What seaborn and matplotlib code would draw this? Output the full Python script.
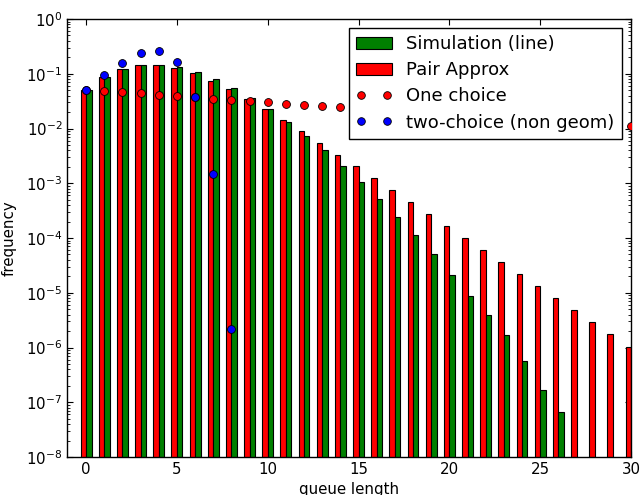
import numpy as np
import pandas as pd
import matplotlib
matplotlib.use("Agg")
import matplotlib.pyplot as plt
from matplotlib.ticker import LogLocator, NullFormatter
from matplotlib.patches import Patch
from matplotlib.lines import Line2D
import seaborn as sns

# ---- data ----
queue = list(range(31))
pair_approx = [0.051, 0.088, 0.123, 0.146, 0.146, 0.130, 0.103, 0.075, 0.052, 0.035,
               0.0225, 0.0141, 0.0089, 0.00544, 0.00333, 0.00203, 0.00124, 0.00075,
               0.000453, 0.000276, 1.64e-4, 1.00e-4, 6.06e-5, 3.65e-5, 2.2e-5,
               1.33e-5, 8.0e-6, 4.76e-6, 2.87e-6, 1.75e-6, 1.04e-6]
simulation = [0.051, 0.086, 0.123, 0.142, 0.146, 0.132, 0.107, 0.080, 0.055, 0.036,
              0.0225, 0.0132, 0.0074, 0.00406, 0.00209, 0.00105, 0.000513, 0.000243,
              0.000114, 5.05e-5, 2.14e-5, 8.8e-6, 3.9e-6, 1.66e-6, 5.6e-7,
              1.65e-7, 6.7e-8, np.nan, np.nan, np.nan, np.nan]
one_choice = [0.050, 0.048, 0.0455, 0.0436, 0.0412, 0.0389, 0.037, 0.0353, 0.0334, 0.032,
              0.030, 0.0285, 0.027, 0.0259, 0.0245, 0.0232, 0.022, 0.021, 0.020, 0.019,
              0.018, 0.017, 0.0162, 0.0154, 0.0146, 0.0139, 0.0132, 0.0125, 0.0119,
              0.0113, 0.011]
two_choice_x = [0, 1, 2, 3, 4, 5, 6, 7, 8]
two_choice = [0.051, 0.0946, 0.159, 0.235, 0.26, 0.163, 0.0379, 0.00149, 2.16e-6]

series_names = ["Pair Approx", "Simulation (line)"]
colors = {"Pair Approx": "#ff0000", "Simulation (line)": "#008000"}

# ---- style ----
sns.set_style("white")
plt.rcParams.update({
    "font.family": ["DejaVu Sans"],
    "font.size": 10.8,
    "axes.edgecolor": "black",
    "axes.linewidth": 1.0,
    "xtick.direction": "in",
    "ytick.direction": "in",
    "xtick.top": True,
    "ytick.right": True,
    "xtick.bottom": True,
    "ytick.left": True,
    "xtick.major.size": 4,
    "ytick.major.size": 4,
    "ytick.minor.size": 2,
    "xtick.color": "black",
    "ytick.color": "black",
    "xtick.labelsize": 10.8,
    "ytick.labelsize": 10.8,
    "axes.labelsize": 10.8,
    "axes.labelcolor": "black",
    "text.color": "black",
})

df = pd.DataFrame({
    "queue": queue * 2,
    "freq": pair_approx + simulation,
    "series": [series_names[0]] * len(queue) + [series_names[1]] * len(queue),
}).dropna()

fig = plt.figure(figsize=(6.42, 4.95), dpi=100)
ax = fig.add_axes([67 / 642, 1 - 457 / 495, (631 - 67) / 642, (457 - 19) / 495])

sns.barplot(data=df, x="queue", y="freq", hue="series", hue_order=series_names,
            palette=colors, native_scale=True, width=0.6, dodge=True,
            saturation=1, errorbar=None, edgecolor="black", linewidth=0.8,
            legend=False, ax=ax)

sns.scatterplot(x=queue, y=one_choice, color="#ff0000", s=32, edgecolor="black",
                linewidth=0.6, zorder=3, legend=False, ax=ax, clip_on=True)
sns.scatterplot(x=two_choice_x, y=two_choice, color="#0000ff", s=32, edgecolor="black",
                linewidth=0.6, zorder=4, legend=False, ax=ax)

ax.set_yscale("log")
ax.set_ylim(1e-8, 1)
ax.set_xlim(-1.05, 30)
ax.set_xticks([0, 5, 10, 15, 20, 25, 30])
ax.yaxis.set_major_locator(LogLocator(base=10, numticks=20))
ax.yaxis.set_minor_locator(LogLocator(base=10, subs=np.arange(2, 10), numticks=20))
ax.yaxis.set_minor_formatter(NullFormatter())
ax.set_xlabel("queue length", labelpad=4)
ax.set_ylabel("frequency", labelpad=7)
for s in ax.spines.values():
    s.set_visible(True)
    s.set_color("black")

handles = [
    Patch(facecolor="#008000", edgecolor="black", linewidth=0.8),
    Patch(facecolor="#ff0000", edgecolor="black", linewidth=0.8),
    Line2D([], [], linestyle="none", marker="o", markersize=5.5,
           markerfacecolor="#ff0000", markeredgecolor="black", markeredgewidth=0.6),
    Line2D([], [], linestyle="none", marker="o", markersize=5.5,
           markerfacecolor="#0000ff", markeredgecolor="black", markeredgewidth=0.6),
]
labels = ["Simulation (line)", "Pair Approx", "One choice", "two-choice (non geom)"]
leg = ax.legend(handles, labels, loc="upper right", numpoints=2, fontsize=13,
                frameon=True, fancybox=False, framealpha=1, edgecolor="black",
                borderpad=0.4, labelspacing=0.45, handlelength=2.0, handletextpad=0.8,
                borderaxespad=0.5)
leg.get_frame().set_linewidth(1.0)

fig.savefig("out.png", dpi=100)
